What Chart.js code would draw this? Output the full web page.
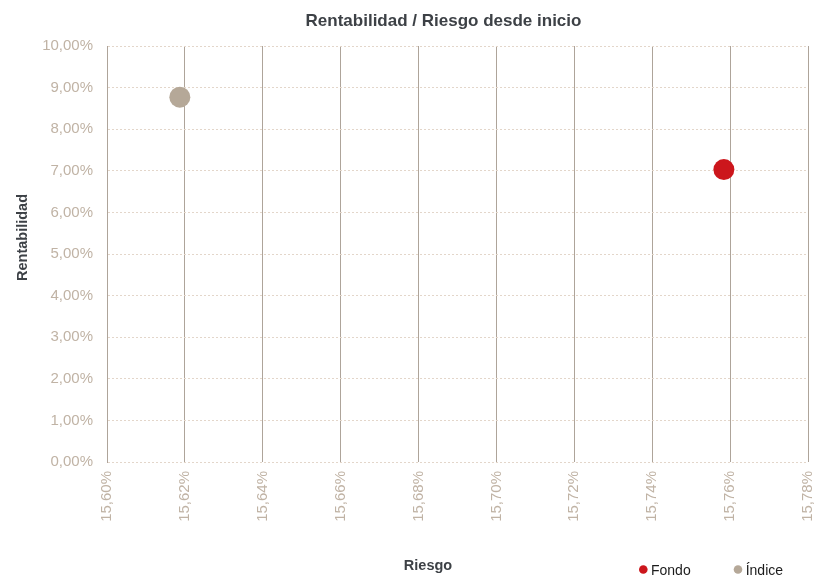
<!DOCTYPE html>
<html>
<head>
<meta charset="utf-8">
<style>
  html, body { margin: 0; padding: 0; background: #ffffff; }
</style>
<script src="https://cdn.jsdelivr.net/npm/chart.js@4.4.1/dist/chart.umd.min.js"></script>
</head>
<body>
<canvas id="myChart" width="828" height="576"></canvas>
<script>
let chartTitle = "Rentabilidad / Riesgo desde inicio";
let xAxisTitle = "Riesgo";
let yAxisTitle = "Rentabilidad";
let seriesNames = ["Fondo", "Índice"];
let seriesColors = ["#cc161c", "#b5a898"];
let riesgoValues = [15.7584, 15.6187];
let rentabilidadValues = [7.03, 8.77];
let xTickValues = [15.6, 15.62, 15.64, 15.66, 15.68, 15.7, 15.72, 15.74, 15.76, 15.78];
let yTickValues = [0, 1, 2, 3, 4, 5, 6, 7, 8, 9, 10];

let fontFamily = "'Liberation Sans', Arial, Helvetica, sans-serif";
let tickColor = "#c0b3a5";
let titleColor = "#3d4146";
let solidGridColor = "#aea49a";
let dashGridColor = "#e3d6ca";

Chart.defaults.font.family = fontFamily;

function formatPercent(value) {
  return value.toFixed(2).replace(".", ",") + "%";
}

// title, axis titles and legend drawn at the spots they take in the original
let extraLabels = {
  id: "extraLabels",
  afterDraw(chart) {
    let ctx = chart.ctx;
    ctx.save();
    ctx.fillStyle = titleColor;
    ctx.textAlign = "center";
    ctx.textBaseline = "alphabetic";
    ctx.font = "bold 17px " + fontFamily;
    ctx.fillText(chartTitle, 443.5, 26);
    ctx.font = "bold 14.5px " + fontFamily;
    ctx.fillText(xAxisTitle, 428, 570);
    ctx.save();
    ctx.translate(26.5, 237.5);
    ctx.rotate(-Math.PI / 2);
    ctx.fillText(yAxisTitle, 0, 0);
    ctx.restore();

    ctx.font = "14px " + fontFamily;
    ctx.textAlign = "left";
    let x = 639;
    chart.data.datasets.forEach(function (ds) {
      ctx.fillStyle = ds.backgroundColor;
      ctx.beginPath();
      ctx.arc(x + 4.3, 569.5, 4.3, 0, Math.PI * 2);
      ctx.fill();
      ctx.fillStyle = "#1c1c1c";
      ctx.fillText(ds.label, x + 12, 575);
      x += 12 + ctx.measureText(ds.label).width + 43;
    });
    ctx.restore();
  },
};

function getChart() {
  let ctx = document.getElementById("myChart").getContext("2d");
  let datasets = seriesNames.map(function (name, i) {
    return {
      label: name,
      data: [{ x: riesgoValues[i], y: rentabilidadValues[i] }],
      backgroundColor: seriesColors[i],
      borderWidth: 0,
      pointRadius: 10.5,
      pointHoverRadius: 10.5,
    };
  });
  return new Chart(ctx, {
    type: "scatter",
    data: { datasets: datasets },
    options: {
      responsive: false,
      animation: false,
      layout: { padding: { top: 46, right: 20, bottom: 0, left: 0 } },
      plugins: {
        legend: { display: false },
        tooltip: { enabled: false },
        title: { display: false },
      },
      scales: {
        x: {
          type: "linear",
          min: 15.6,
          max: 15.78,
          afterBuildTicks: function (scale) {
            scale.ticks = xTickValues.map((v) => ({ value: v }));
          },
          afterFit: function (scale) {
            scale.height = 114;
            scale.paddingLeft = 0;
            scale.paddingRight = 0;
          },
          grid: { color: solidGridColor, drawTicks: false },
          border: { display: false },
          ticks: {
            color: tickColor,
            font: { size: 15 },
            padding: 9,
            minRotation: 90,
            maxRotation: 90,
            autoSkip: false,
            callback: (v) => formatPercent(v),
          },
        },
        y: {
          type: "linear",
          min: 0,
          max: 10,
          afterBuildTicks: function (scale) {
            scale.ticks = yTickValues.map((v) => ({ value: v }));
          },
          afterFit: function (scale) {
            scale.width = 107;
            scale.paddingTop = 0;
            scale.paddingBottom = 0;
          },
          grid: { color: dashGridColor, drawTicks: false },
          border: { color: solidGridColor, dash: [2, 2] },
          ticks: {
            color: tickColor,
            font: { size: 15 },
            padding: 14,
            autoSkip: false,
            callback: (v) => formatPercent(v),
          },
        },
      },
    },
    plugins: [extraLabels],
  });
}

getChart();
</script>
</body>
</html>
